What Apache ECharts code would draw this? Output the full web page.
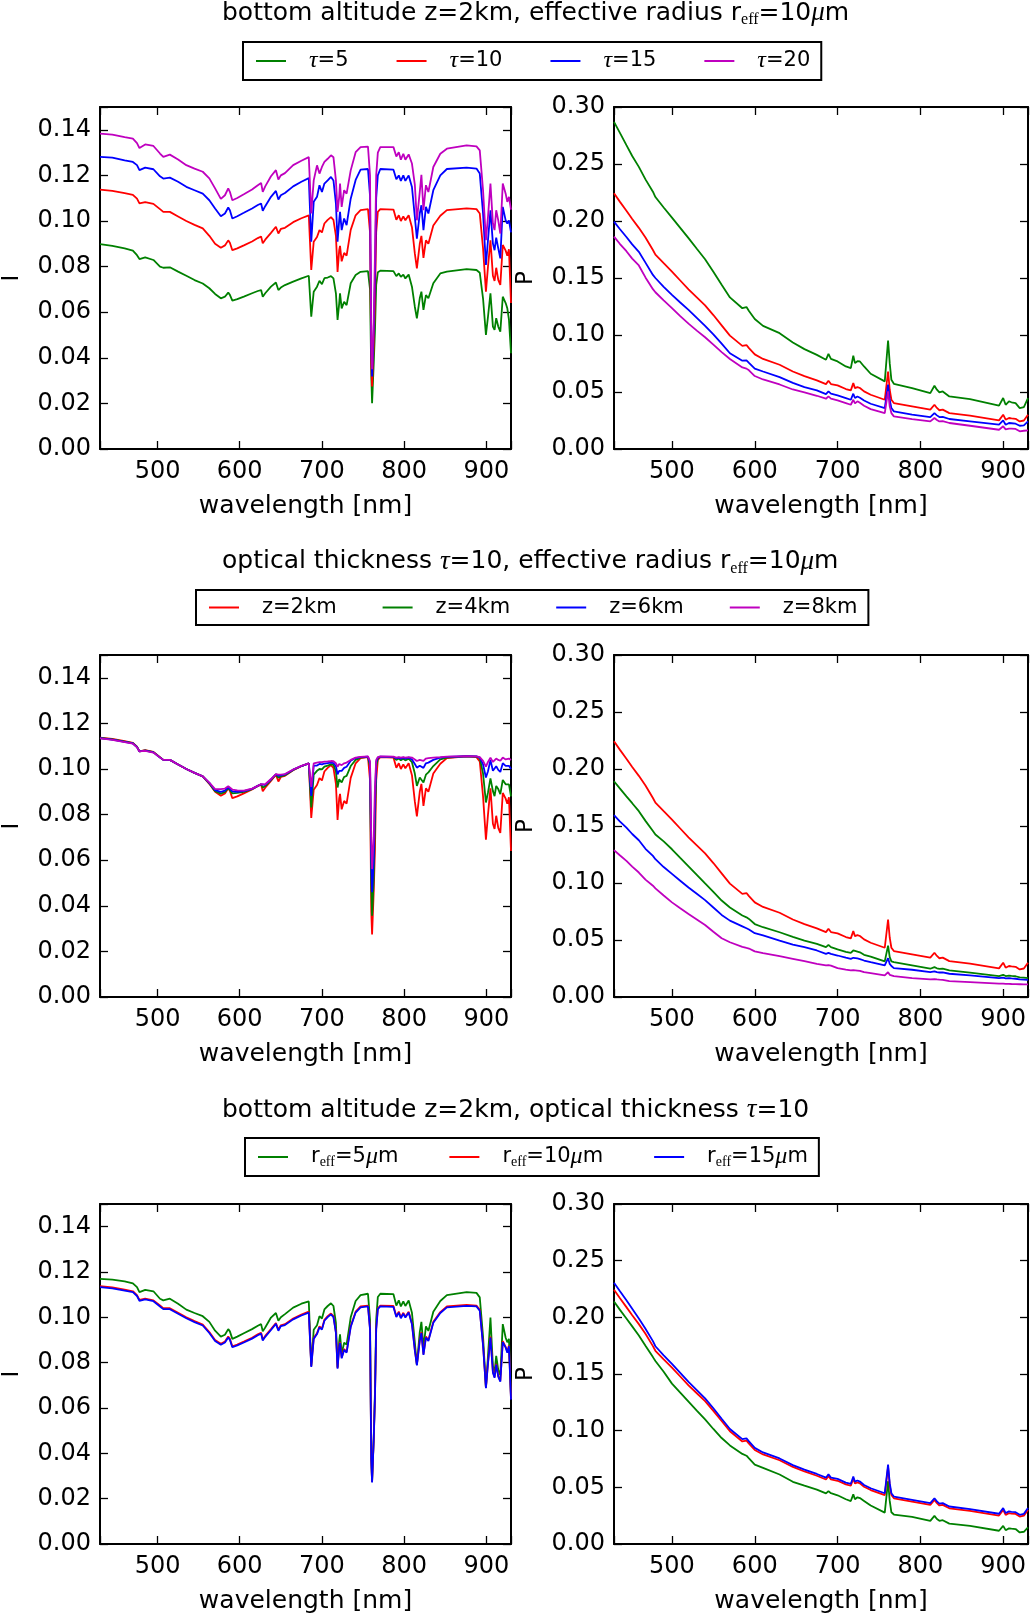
<!DOCTYPE html>
<html>
<head>
<meta charset="utf-8">
<script src="https://cdn.jsdelivr.net/npm/echarts@6/dist/echarts.min.js"></script>
<style>
html,body{margin:0;padding:0;background:#fff;}
#c{width:1032px;height:1615px;}
</style>
</head>
<body>
<div id="c"></div>
<script>
// ---------------- data ----------------
const WL_I = [
430,445,460,470,475,478,485,495,503,507,
515,525,535,545,555,563,570,577,582,586,
588,591,597,605,615,622,626,628,631,638,
644,647,650,655,665,675,684,687,690,694,
697,700,703,707,711,714,717,719,721,722,
724,727,730,735,741,747,756,758.5,760,761,
763,764.5,766,768,771,787,790.5,793.5,796,799,
801.5,805.5,809.5,813,815.5,819,821,823.5,826.5,829.5,
835.5,844,852,876,888,892,896,899.5,902,905,
908,910,912,914.5,917,920,923.5,925.5,927.5,930];

const I_TAU5 = [
.0899,.0891,.0880,.0870,.0850,.0833,.0840,.0829,.0800,.0795,
.0797,.0778,.0760,.0741,.0726,.0705,.0680,.0661,.0668,.0686,
.0676,.0651,.0657,.0668,.0683,.0693,.0697,.0668,.0683,.0712,
.0730,.0697,.0708,.0719,.0734,.0748,.0760,.0580,.0690,.0712,
.0738,.0723,.0749,.0752,.0758,.0748,.0683,.0566,.0639,.0683,
.0617,.0646,.0631,.0727,.0763,.0777,.0780,.0700,.0327,.0201,
.0376,.0520,.0720,.0775,.0782,.0780,.0758,.0770,.0755,.0765,
.0748,.0765,.0712,.0624,.0573,.0661,.0690,.0610,.0675,.0661,
.0727,.0770,.0778,.0789,.0785,.0773,.0660,.0500,.0580,.0683,
.0537,.0522,.0574,.0537,.0515,.0668,.0640,.0617,.0568,.0420];

const I_TAU10 = [
.1138,.1132,.1122,.1115,.1098,.1077,.1083,.1075,.1052,.1040,
.1040,.1020,.1000,.0983,.0968,.0935,.0900,.0883,.0893,.0915,
.0905,.0872,.0880,.0893,.0910,.0925,.0932,.0902,.0918,.0948,
.0975,.0945,.0965,.0970,.0995,.1012,.1025,.0785,.0909,.0930,
.0960,.0950,.0989,.1005,.1017,.1005,.0935,.0777,.0872,.0891,
.0823,.0860,.0848,.0961,.1025,.1048,.1052,.0950,.0376,.0274,
.0464,.0650,.0950,.1040,.1052,.1050,.1005,.1025,.1000,.1020,
.1003,.1025,.0973,.0858,.0792,.0900,.0935,.0838,.0915,.0900,
.0980,.1023,.1048,.1055,.1052,.1033,.0880,.0690,.0800,.0915,
.0760,.0737,.0795,.0742,.0720,.0895,.0870,.0848,.0876,.0640];

const I_TAU15 = [
.1281,.1278,.1266,.1259,.1245,.1223,.1234,.1227,.1196,.1186,
.1190,.1172,.1150,.1135,.1120,.1091,.1055,.1021,.1033,.1059,
.1047,.1011,.1021,.1036,.1055,.1070,.1077,.1045,.1065,.1106,
.1132,.1094,.1113,.1123,.1152,.1172,.1188,.0909,.1084,.1106,
.1157,.1127,.1164,.1178,.1193,.1178,.1077,.0909,.1003,.1040,
.0960,.1011,.0982,.1098,.1180,.1225,.1228,.1110,.0449,.0318,
.0522,.0750,.1100,.1200,.1228,.1225,.1183,.1200,.1176,.1200,
.1176,.1200,.1149,.1018,.0923,.1033,.1069,.0960,.1062,.1033,
.1135,.1200,.1228,.1234,.1230,.1208,.1033,.0807,.0916,.1047,
.0901,.0872,.0927,.0880,.0836,.1062,.1003,.0989,.1003,.0950];

const I_TAU20 = [
.1383,.1379,.1368,.1361,.1342,.1320,.1336,.1329,.1296,.1281,
.1291,.1270,.1245,.1230,.1216,.1187,.1143,.1097,.1113,.1143,
.1128,.1091,.1101,.1117,.1138,.1157,.1167,.1128,.1152,.1196,
.1223,.1182,.1200,.1210,.1245,.1264,.1280,.1033,.1178,.1244,
.1208,.1237,.1259,.1273,.1288,.1280,.1178,.1040,.1106,.1164,
.1062,.1135,.1120,.1222,.1302,.1324,.1326,.1200,.0470,.0350,
.0570,.0850,.1200,.1300,.1324,.1324,.1283,.1302,.1269,.1295,
.1269,.1292,.1252,.1160,.1003,.1127,.1203,.1047,.1157,.1127,
.1237,.1295,.1317,.1332,.1327,.1310,.1135,.0916,.1018,.1164,
.0989,.0960,.1047,.1003,.0945,.1164,.1120,.1084,.1106,.1050];

const I_Z4 = [
.1136,.1130,.1120,.1113,.1097,.1077,.1082,.1074,.1051,.1040,
.1040,.1020,.1000,.0983,.0968,.0937,.0903,.0892,.0899,.0917,
.0910,.0893,.0895,.0900,.0912,.0926,.0933,.0918,.0925,.0952,
.0976,.0962,.0968,.0973,.0996,.1013,.1025,.0831,.0975,.0992,
.1000,.0998,.1010,.1015,.1020,.1018,.0990,.0919,.0955,.0962,
.0941,.0965,.0970,.1013,.1040,.1050,.1053,.1010,.0500,.0357,
.0520,.0780,.1010,.1048,.1053,.1052,.1040,.1046,.1038,.1045,
.1038,.1045,.1030,.0980,.0926,.0963,.0970,.0941,.0975,.0985,
.1013,.1042,.1050,.1056,.1054,.1048,.0980,.0853,.0897,.0959,
.0903,.0881,.0926,.0912,.0890,.0952,.0933,.0925,.0933,.0880];

const I_Z6 = [
.1135,.1129,.1119,.1112,.1096,.1077,.1081,.1073,.1050,.1040,
.1040,.1020,.1000,.0983,.0968,.0939,.0907,.0900,.0905,.0920,
.0915,.0902,.0900,.0903,.0913,.0926,.0933,.0925,.0930,.0954,
.0977,.0970,.0972,.0976,.0997,.1013,.1025,.0882,.1015,.1015,
.1022,.1020,.1024,.1026,.1028,.1026,.1012,.0977,.0992,.0999,
.0992,.1005,.1010,.1036,.1048,.1052,.1054,.1025,.0600,.0460,
.0600,.0850,.1030,.1050,.1054,.1053,.1046,.1050,.1045,.1050,
.1045,.1050,.1042,.1022,.1006,.1014,.1021,.1005,.1025,.1028,
.1040,.1050,.1053,.1056,.1055,.1050,.1020,.0963,.0990,.1039,
.0992,.0985,.1012,.0996,.0987,.1025,.1014,.1006,.1014,.1000];

const I_Z8 = [
.1134,.1128,.1118,.1111,.1095,.1077,.1080,.1072,.1050,.1040,
.1040,.1020,.1000,.0983,.0968,.0940,.0912,.0912,.0914,.0924,
.0920,.0910,.0906,.0905,.0914,.0926,.0934,.0930,.0933,.0956,
.0978,.0975,.0975,.0978,.0998,.1014,.1025,.0922,.1025,.1028,
.1030,.1030,.1032,.1033,.1035,.1034,.1025,.1010,.1022,.1025,
.1017,.1025,.1028,.1040,.1050,.1053,.1055,.1035,.0700,.0561,
.0700,.0920,.1040,.1052,.1055,.1054,.1050,.1052,.1050,.1052,
.1050,.1052,.1050,.1042,.1035,.1040,.1046,.1036,.1046,.1048,
.1050,.1052,.1054,.1056,.1055,.1052,.1036,.1010,.1031,.1050,
.1031,.1028,.1046,.1040,.1036,.1050,.1042,.1042,.1046,.1040];

const I_R5 = [
.1170,.1166,.1159,.1150,.1133,.1111,.1121,.1115,.1082,.1075,
.1082,.1060,.1034,.1019,.1005,.0980,.0941,.0915,.0923,.0948,
.0938,.0905,.0915,.0930,.0948,.0963,.0970,.0938,.0955,.0999,
.1019,.0985,.1000,.1014,.1043,.1060,.1070,.0787,.0945,.0965,
.1005,.0995,.1035,.1050,.1062,.1050,.0975,.0780,.0895,.0925,
.0840,.0888,.0880,.1000,.1072,.1098,.1104,.0990,.0380,.0277,
.0470,.0670,.0990,.1090,.1104,.1102,.1052,.1075,.1048,.1070,
.1050,.1074,.1020,.0890,.0790,.0935,.0980,.0865,.0960,.0940,
.1025,.1072,.1098,.1111,.1108,.1088,.0915,.0690,.0830,.0999,
.0785,.0760,.0830,.0768,.0745,.0970,.0910,.0890,.0905,.0650];

const I_R15 = [
.1133,.1128,.1118,.1111,.1094,.1073,.1079,.1071,.1048,.1036,
.1036,.1016,.0996,.0979,.0964,.0931,.0896,.0879,.0889,.0911,
.0901,.0868,.0876,.0889,.0906,.0921,.0928,.0898,.0914,.0944,
.0971,.0941,.0961,.0966,.0991,.1008,.1021,.0781,.0905,.0926,
.0956,.0946,.0985,.1001,.1013,.1001,.0931,.0773,.0868,.0887,
.0819,.0856,.0844,.0957,.1021,.1044,.1048,.0946,.0372,.0271,
.0460,.0646,.0946,.1036,.1048,.1046,.1001,.1021,.0996,.1016,
.0999,.1021,.0969,.0854,.0788,.0896,.0931,.0834,.0911,.0896,
.0976,.1019,.1044,.1051,.1048,.1029,.0876,.0687,.0796,.0911,
.0756,.0733,.0791,.0738,.0716,.0891,.0866,.0844,.0872,.0637];

const WL_P = [
430,437,445,452,460,468,477,480,490,500,
510,520,530,540,550,560,570,585,590,593,
600,610,630,646,648,660,675,686,689,692,
700,710,716,719,721,724,727,732,740,757,
759,761,763,765,768,790,812,817,820,823,
827,835,860,895,900,903,907,910,915,920,
925,930];

const P_TAU5 = [
.2870,.2775,.2665,.2570,.2475,.2365,.2257,.2210,.2118,.2030,
.1940,.1850,.1757,.1665,.1555,.1440,.1330,.1235,.1245,.1210,
.1140,.1080,.1016,.0935,.0945,.0876,.0826,.0783,.0835,.0790,
.0768,.0724,.0710,.0818,.0753,.0770,.0768,.0724,.0660,.0593,
.0584,.0952,.0753,.0607,.0572,.0534,.0490,.0555,.0520,.0496,
.0505,.0461,.0438,.0380,.0447,.0388,.0418,.0410,.0403,.0359,
.0368,.0447];

const P_TAU10 = [
.2243,.2170,.2090,.2018,.1940,.1855,.1746,.1705,.1630,.1556,
.1478,.1400,.1330,.1260,.1175,.1085,.0995,.0905,.0912,.0885,
.0830,.0790,.0739,.0680,.0684,.0640,.0602,.0569,.0599,.0570,
.0558,.0526,.0514,.0578,.0534,.0543,.0535,.0505,.0476,.0432,
.0426,.0680,.0520,.0432,.0403,.0374,.0345,.0388,.0360,.0340,
.0345,.0315,.0292,.0251,.0301,.0257,.0272,.0268,.0265,.0242,
.0250,.0301];

const P_TAU15 = [
.1994,.1930,.1860,.1795,.1730,.1635,.1527,.1500,.1423,.1352,
.1285,.1220,.1150,.1080,.1005,.0925,.0840,.0775,.0777,.0755,
.0705,.0680,.0631,.0580,.0584,.0543,.0514,.0482,.0505,.0485,
.0470,.0447,.0432,.0485,.0447,.0461,.0450,.0426,.0397,.0359,
.0350,.0564,.0432,.0359,.0330,.0301,.0280,.0315,.0295,.0280,
.0282,.0263,.0242,.0213,.0251,.0213,.0228,.0226,.0222,.0204,
.0208,.0242];

const P_TAU20 = [
.1863,.1800,.1735,.1670,.1610,.1505,.1402,.1375,.1303,.1235,
.1165,.1100,.1038,.0980,.0915,.0850,.0790,.0715,.0705,.0690,
.0640,.0610,.0566,.0522,.0526,.0496,.0467,.0441,.0461,.0442,
.0426,.0403,.0388,.0432,.0400,.0418,.0405,.0380,.0350,.0315,
.0310,.0505,.0374,.0315,.0286,.0263,.0242,.0272,.0255,.0242,
.0245,.0228,.0204,.0169,.0199,.0172,.0178,.0178,.0176,.0155,
.0160,.0164];

const P_Z4 = [
.1893,.1830,.1760,.1700,.1630,.1545,.1456,.1425,.1365,.1296,
.1220,.1146,.1072,.0996,.0922,.0846,.0785,.0715,.0699,.0685,
.0640,.0612,.0568,.0528,.0530,.0495,.0466,.0437,.0457,.0438,
.0417,.0396,.0387,.0408,.0392,.0398,.0392,.0370,.0355,.0312,
.0310,.0451,.0350,.0312,.0306,.0277,.0248,.0262,.0252,.0247,
.0248,.0233,.0213,.0184,.0195,.0184,.0187,.0185,.0182,.0172,
.0170,.0166];

const P_Z6 = [
.1596,.1540,.1486,.1430,.1375,.1300,.1238,.1209,.1140,.1080,
.1020,.0960,.0905,.0850,.0785,.0720,.0670,.0620,.0603,.0592,
.0560,.0540,.0495,.0460,.0462,.0437,.0408,.0379,.0387,.0378,
.0364,.0345,.0335,.0344,.0336,.0338,.0333,.0320,.0305,.0277,
.0275,.0341,.0290,.0272,.0253,.0239,.0218,.0225,.0218,.0215,
.0215,.0204,.0189,.0166,.0170,.0164,.0165,.0163,.0160,.0154,
.0153,.0151];

const P_Z8 = [
.1288,.1243,.1194,.1143,.1092,.1030,.0976,.0953,.0890,.0830,
.0778,.0728,.0680,.0632,.0572,.0515,.0480,.0440,.0430,.0425,
.0400,.0385,.0358,.0335,.0335,.0315,.0291,.0277,.0280,.0275,
.0253,.0240,.0233,.0235,.0232,.0232,.0230,.0218,.0210,.0189,
.0188,.0218,.0195,.0187,.0184,.0166,.0154,.0157,.0154,.0152,
.0151,.0140,.0131,.0117,.0118,.0116,.0115,.0114,.0113,.0112,
.0111,.0111];

const P_R5 = [
.2139,.2068,.1990,.1920,.1840,.1750,.1649,.1615,.1520,.1415,
.1336,.1257,.1177,.1100,.1015,.0935,.0870,.0795,.0779,.0755,
.0700,.0672,.0613,.0549,.0552,.0515,.0480,.0446,.0467,.0448,
.0430,.0395,.0379,.0438,.0395,.0412,.0405,.0380,.0340,.0277,
.0272,.0554,.0380,.0280,.0260,.0240,.0204,.0248,.0220,.0205,
.0210,.0180,.0160,.0117,.0160,.0122,.0138,.0135,.0132,.0102,
.0108,.0146];

const P_R15 = [
.2305,.2232,.2150,.2075,.1990,.1900,.1790,.1745,.1665,.1590,
.1510,.1430,.1358,.1285,.1198,.1105,.1015,.0925,.0932,.0905,
.0848,.0808,.0755,.0696,.0700,.0656,.0618,.0585,.0615,.0586,
.0574,.0542,.0530,.0595,.0550,.0560,.0551,.0521,.0492,.0448,
.0442,.0700,.0537,.0448,.0419,.0390,.0361,.0404,.0376,.0356,
.0361,.0331,.0308,.0267,.0317,.0273,.0288,.0284,.0281,.0258,
.0266,.0317];

const X_TICKS = [500, 600, 700, 800, 900];
const I_TICKS = [0, 0.02, 0.04, 0.06, 0.08, 0.10, 0.12, 0.14];
const P_TICKS = [0, 0.05, 0.10, 0.15, 0.20, 0.25, 0.30];

const TITLES = [
  'bottom altitude z=2km, effective radius {n|r}{sub|eff}{n|=10}{it|μ}{n|m}',
  'optical thickness {it|τ}{n|=10, effective radius r}{sub|eff}{n|=10}{it|μ}{n|m}',
  'bottom altitude z=2km, optical thickness {it|τ}{n|=10}'
];
const LEG1 = ['τ=5', 'τ=10', 'τ=15', 'τ=20'];
const LEG2 = ['z=2km', 'z=4km', 'z=6km', 'z=8km'];
const LEG3 = ['r_eff=5μm', 'r_eff=10μm', 'r_eff=15μm'];

// ---------------- styling ----------------
const GREEN = '#008000', RED = '#ff0000', BLUE = '#0000ff', MAG = '#bf00bf';
const FONT = "'DejaVu Sans', sans-serif";
const SERIF = "'Liberation Serif', 'DejaVu Serif', serif";

const ROW_TOPS = [107, 655, 1204];
const GH = 342;
const grids = [];
ROW_TOPS.forEach(t => {
  grids.push({left: 98, top: t, width: 413, height: GH});
  grids.push({left: 614, top: t, width: 414, height: GH});
});

const axLine = {show: true, onZero: false, lineStyle: {color: '#000', width: 2}};
const axTick = {show: true, inside: true, length: 8, lineStyle: {color: '#000', width: 1.3}};
const lblStyle = {color: '#000', fontSize: 24, fontFamily: FONT};
const nameStyle = {color: '#000', fontSize: 25, fontFamily: FONT};

const xAxes = [], yAxes = [];
for (let g = 0; g < 6; g++) {
  const isP = g % 2 === 1;
  xAxes.push({
    gridIndex: g, type: 'value', position: 'bottom', min: 430, max: 930,
    axisLine: axLine, axisTick: axTick, splitLine: {show: false},
    axisLabel: Object.assign({margin: 11,
      formatter: v => X_TICKS.some(t => Math.abs(t - v) < 1e-6) ? String(Math.round(v)) : ''}, lblStyle),
    name: 'wavelength [nm]', nameLocation: 'middle', nameGap: 45,
    nameTextStyle: nameStyle
  });
  xAxes.push({
    gridIndex: g, type: 'value', position: 'top', min: 430, max: 930,
    axisLine: axLine, axisTick: axTick, splitLine: {show: false},
    axisLabel: {show: false}
  });
  const ticks = isP ? P_TICKS : I_TICKS;
  const yMax = isP ? 0.30 : 0.15;
  const yInt = isP ? 0.05 : 0.02;
  const fmt = v => ticks.some(t => Math.abs(t - v) < 1e-9) ? v.toFixed(2) : '';
  yAxes.push({
    gridIndex: g, type: 'value', position: 'left', min: 0, max: yMax, interval: yInt,
    axisLine: axLine, axisTick: axTick, splitLine: {show: false},
    axisLabel: Object.assign({margin: 9, formatter: fmt}, lblStyle),
    name: isP ? 'P' : 'I', nameLocation: 'middle', nameGap: 76,
    nameTextStyle: {color: '#000', fontSize: 23, fontFamily: FONT}
  });
  yAxes.push({
    gridIndex: g, type: 'value', position: 'right', min: 0, max: yMax, interval: yInt,
    axisLine: axLine, axisTick: axTick, splitLine: {show: false},
    axisLabel: {show: false}
  });
}

function pairs(xs, ys) { return xs.map((x, i) => [x, ys[i]]); }
const series = [];
function addLine(grid, name, color, xs, ys) {
  series.push({
    type: 'line', name: name, xAxisIndex: grid * 2, yAxisIndex: grid * 2,
    data: pairs(xs, ys), showSymbol: false, symbol: 'none',
    itemStyle: {color: color}, lineStyle: {color: color, width: 1.8},
    emphasis: {disabled: true}, animation: false, z: 2
  });
}
// row 1: optical thickness
[[LEG1[0], GREEN, I_TAU5, P_TAU5], [LEG1[1], RED, I_TAU10, P_TAU10],
 [LEG1[2], BLUE, I_TAU15, P_TAU15], [LEG1[3], MAG, I_TAU20, P_TAU20]].forEach(s => {
  addLine(0, s[0], s[1], WL_I, s[2]); addLine(1, s[0], s[1], WL_P, s[3]);
});
// row 2: altitude
[[LEG2[0], RED, I_TAU10, P_TAU10], [LEG2[1], GREEN, I_Z4, P_Z4],
 [LEG2[2], BLUE, I_Z6, P_Z6], [LEG2[3], MAG, I_Z8, P_Z8]].forEach(s => {
  addLine(2, s[0], s[1], WL_I, s[2]); addLine(3, s[0], s[1], WL_P, s[3]);
});
// row 3: effective radius
[[LEG3[0], GREEN, I_R5, P_R5], [LEG3[1], RED, I_TAU10, P_TAU10],
 [LEG3[2], BLUE, I_R15, P_R15]].forEach(s => {
  addLine(4, s[0], s[1], WL_I, s[2]); addLine(5, s[0], s[1], WL_P, s[3]);
});

const richLeg = {
  n: {fontFamily: FONT, fontSize: 21, color: '#000', lineHeight: 24},
  it: {fontFamily: SERIF, fontStyle: 'italic', fontSize: 24, color: '#000', lineHeight: 24},
  sub: {fontFamily: SERIF, fontSize: 14, color: '#000', lineHeight: 14, verticalAlign: 'bottom'}
};
function legFmt(name) {
  if (name.indexOf('τ') === 0) return '{it|τ}{n|' + name.slice(1) + '}';
  if (name.indexOf('r_eff') === 0) {
    const num = name.slice(5).replace('μm', '');
    return '{n|r}{sub|eff}{n|' + num + '}{it|μ}{n|m}';
  }
  return '{n|' + name + '}';
}
function makeLegend(data, left, top, gap) {
  return {
    data: data, left: left, top: top, orient: 'horizontal',
    icon: 'rect', itemWidth: 30, itemHeight: 2, itemGap: gap,
    padding: [7, 11, 7, 13], borderColor: '#000', borderWidth: 2, backgroundColor: '#fff',
    selectedMode: false, formatter: legFmt,
    textStyle: {fontFamily: FONT, fontSize: 21, color: '#000', padding: [0, 0, 0, 18], rich: richLeg}
  };
}

const richTitle = {
  n: {fontFamily: FONT, fontSize: 25, color: '#000', lineHeight: 30},
  it: {fontFamily: SERIF, fontStyle: 'italic', fontSize: 27, color: '#000', lineHeight: 30},
  sub: {fontFamily: SERIF, fontSize: 16, color: '#000', lineHeight: 16, verticalAlign: 'bottom'}
};
const titles = TITLES.map((t, i) => ({
  text: t, left: 222, top: -2 + i * 548.5, padding: 0,
  textStyle: {fontFamily: FONT, fontSize: 25, fontWeight: 'normal', color: '#000', lineHeight: 30, rich: richTitle}
}));

const chart = echarts.init(document.getElementById('c'), null, {renderer: 'canvas'});
chart.setOption({
  animation: false,
  backgroundColor: '#fff',
  title: titles,
  legend: [makeLegend(LEG1, 243, 42, 48), makeLegend(LEG2, 196, 590, 46), makeLegend(LEG3, 245, 1138, 51)],
  grid: grids,
  xAxis: xAxes,
  yAxis: yAxes,
  series: series
});
</script>
</body>
</html>
